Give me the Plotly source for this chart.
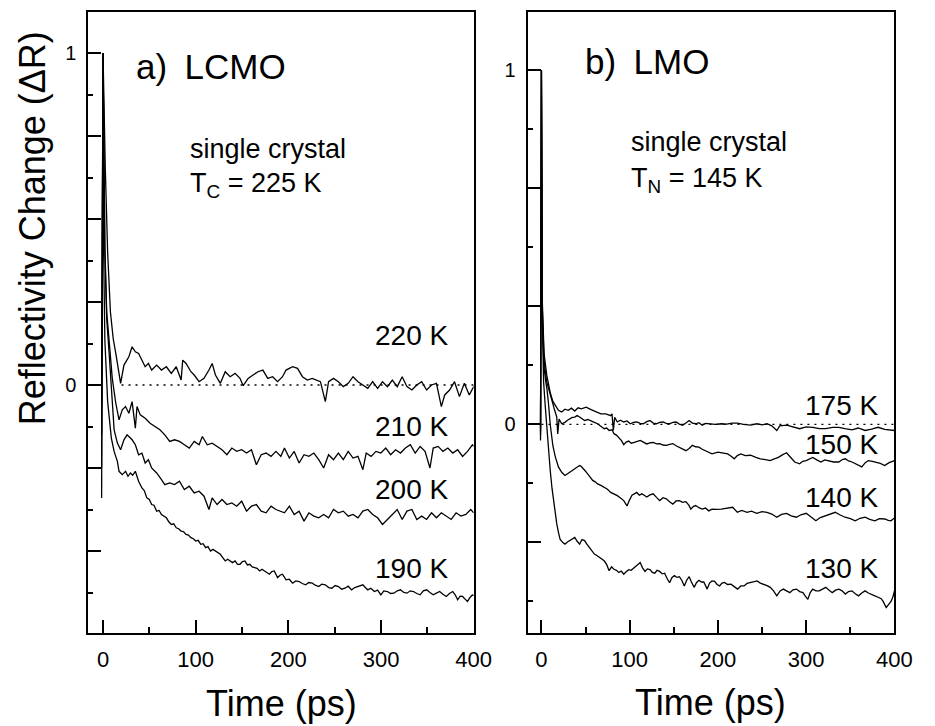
import plotly.graph_objects as go

W, H = 935, 726
FONT = "Liberation Sans, Arial, sans-serif"

# ---- measured transients: (time in ps, normalised reflectivity change) ----
lcmo_220 = [(-1.5,-0.05),(0,1.0),(2.5,0.65),(5,0.4),(8,0.22),(11,0.14),(13.8,0.095),(17.3,0.035),(19,0.005),(22.6,0.06),
    (27.9,0.085),(31.4,0.115),(34.9,0.1),(38.4,0.095),(42,0.075),(45.5,0.055),(49,0.065),(52.5,0.045),(57.9,0.06),(63.1,0.045),
    (68.4,0.055),(73.7,0.035),(79,0.055),(84.3,0.015),(86,0.075),(89.6,0.065),(94.9,0.04),(98.4,0.03),(103.7,0.01),(109,0.02),
    (114.3,0.045),(117.8,0.065),(121.3,0.03),(126.6,0.005),(131.9,0.04),(137.2,0.025),(142.5,0.035),(147.8,0.02),(151.3,-0.002),
    (156.6,0.02),(161.9,0.03),(167.2,0.04),(172.5,0.045),(177.8,0.02),(183,0.025),(188.4,0.01),(193.7,0.025),(197.5,0.045),
    (204.6,0.055),(209.9,0.05),(215.2,0.025),(220.5,0.015),(225.8,0.02),(231,0.015),(234.6,0.01),(239.9,-0.05),(243.4,0.01),
    (248.7,0.02),(254,0.01),(259.3,-0.005),(264.6,0.005),(269.8,0.025),(275.1,0.01),(280.4,0.0),(285.7,-0.01),(291,0.01),
    (296.3,-0.01),(301.6,0.01),(306.9,-0.005),(312.2,0.015),(317.5,-0.005),(322.8,0.025),(328,-0.005),(333.3,-0.015),(338.6,0.0),
    (343.9,0.01),(349.2,-0.015),(354.5,0.0),(359.8,0.005),(365.1,-0.065),(368.7,-0.03),(374,-0.015),(379.3,0.01),(384.6,-0.035),
    (389.9,0.005),(395.2,-0.03),(400,-0.005)]

lcmo_210 = [(-1.5,-0.15),(0,1.0),(2,0.42),(4,0.22),(7,0.12),(10,0.02),(13.8,-0.055),(17.3,-0.105),(20.8,-0.075),(24.3,-0.065),
    (27.9,-0.085),(31.4,-0.05),(34.9,-0.13),(36.7,-0.065),(40.2,-0.09),(45.5,-0.1),(50.8,-0.115),(56.1,-0.125),(61.4,-0.135),
    (66.7,-0.15),(72,-0.17),(77.2,-0.165),(82.5,-0.17),(87.8,-0.18),(93.1,-0.19),(98.4,-0.17),(103.7,-0.18),(107.2,-0.155),
    (112.5,-0.18),(117.8,-0.175),(123.1,-0.185),(128.4,-0.195),(133.7,-0.21),(139,-0.19),(144.3,-0.2),(149.6,-0.195),(154.9,-0.205),
    (160.2,-0.195),(165.5,-0.24),(170.7,-0.21),(176,-0.205),(181.3,-0.215),(186.6,-0.2),(191.9,-0.215),(195.8,-0.19),(201.1,-0.22),
    (206.3,-0.2),(211.6,-0.235),(216.9,-0.21),(222.2,-0.215),(227.5,-0.205),(232.8,-0.225),(238.1,-0.25),(243.4,-0.21),
    (248.7,-0.225),(254,-0.205),(259.3,-0.225),(264.6,-0.2),(269.8,-0.22),(275.1,-0.215),(280.4,-0.255),(284,-0.205),(289.3,-0.215),
    (294.5,-0.2),(299.8,-0.205),(305.1,-0.19),(310.4,-0.21),(315.7,-0.195),(321,-0.205),(326.3,-0.19),(331.6,-0.18),(336.9,-0.205),
    (342.2,-0.185),(347.5,-0.2),(352.8,-0.25),(356.3,-0.19),(361.6,-0.185),(366.8,-0.2),(372.1,-0.19),(377.4,-0.205),(382.7,-0.195),
    (388,-0.215),(393.3,-0.2),(398.6,-0.18),(400,-0.185)]

lcmo_200 = [(-1.5,-0.25),(0,1.0),(2,0.4),(4,0.2),(7,0.08),(10,-0.06),(12,-0.135),(15.5,-0.175),(19,-0.195),(22.6,-0.165),
    (26,-0.15),(31.4,-0.165),(34.9,-0.18),(38.4,-0.21),(42,-0.205),(45.5,-0.235),(49,-0.225),(52.5,-0.25),(57.9,-0.265),(63.1,-0.285),
    (66.7,-0.3),(72,-0.295),(77.2,-0.3),(82.5,-0.29),(87.8,-0.315),(93.1,-0.305),(98.4,-0.325),(103.7,-0.32),(109,-0.335),
    (114.3,-0.375),(117.8,-0.34),(123.1,-0.36),(128.4,-0.345),(133.7,-0.36),(139,-0.355),(144.3,-0.365),(149.6,-0.35),(154.9,-0.38),
    (160.2,-0.365),(165.5,-0.36),(170.7,-0.38),(176,-0.385),(181.3,-0.365),(186.6,-0.375),(191.9,-0.38),(195.8,-0.385),(201.1,-0.365),
    (206.3,-0.39),(211.6,-0.38),(216.9,-0.41),(222.2,-0.385),(227.5,-0.395),(232.8,-0.4),(238.1,-0.39),(243.4,-0.4),(248.7,-0.375),
    (254,-0.385),(259.3,-0.38),(264.6,-0.395),(269.8,-0.39),(275.1,-0.4),(280.4,-0.38),(285.7,-0.375),(291,-0.39),(296.3,-0.4),
    (301.6,-0.42),(306.9,-0.405),(312.2,-0.39),(317.5,-0.375),(322.8,-0.405),(328,-0.38),(333.3,-0.375),(338.6,-0.405),(343.9,-0.395),
    (349.2,-0.405),(354.5,-0.385),(359.8,-0.4),(365.1,-0.385),(370.4,-0.395),(375.7,-0.405),(381,-0.385),(386.2,-0.395),(391.5,-0.39),
    (396.8,-0.375),(400,-0.385)]

lcmo_190 = [(-1.5,-0.34),(0,1.0),(0.7,0.4),(2,0.135),(5,-0.05),(9,-0.16),(12,-0.2),(15.5,-0.23),(17.3,-0.26),(20.8,-0.27),
    (24.3,-0.26),(27,-0.275),(29.6,-0.265),(32,-0.272),(34.9,-0.26),(38.4,-0.29),(42,-0.31),(44.5,-0.318),(47.3,-0.34),(50,-0.345),
    (52.5,-0.36),(55,-0.362),(57.9,-0.38),(60.5,-0.378),(63.1,-0.39),(65.8,-0.395),(68.4,-0.4),(71,-0.412),(73.7,-0.42),(76.3,-0.418),
    (79,-0.43),(81.6,-0.433),(84.3,-0.44),(87,-0.442),(89.6,-0.45),(92.2,-0.452),(94.9,-0.46),(97.5,-0.463),(100.1,-0.47),
    (102.8,-0.468),(105.4,-0.48),(108,-0.478),(110.7,-0.49),(113.3,-0.487),(116,-0.5),(118.6,-0.495),(121.3,-0.5),(124,-0.506),
    (126.6,-0.51),(129.2,-0.52),(131.9,-0.53),(134.5,-0.525),(137.2,-0.53),(139.8,-0.535),(142.5,-0.53),(145.2,-0.54),(147.8,-0.54),
    (150.5,-0.532),(153.1,-0.53),(155.8,-0.542),(158.4,-0.54),(161,-0.548),(163.7,-0.55),(166.3,-0.552),(169,-0.56),(171.6,-0.555),
    (174.3,-0.56),(177,-0.566),(179.6,-0.57),(182.2,-0.562),(184.8,-0.56),(188.4,-0.58),(191,-0.573),(193.7,-0.57),(197.5,-0.587),
    (201,-0.585),(204.6,-0.597),(208,-0.59),(211.6,-0.592),(215,-0.598),(218.7,-0.602),(222,-0.595),(225.8,-0.597),(229,-0.603),
    (232.8,-0.607),(236,-0.6),(239.9,-0.602),(243.5,-0.61),(247,-0.612),(250.5,-0.604),(254,-0.607),(257.5,-0.615),(261.1,-0.612),
    (264.6,-0.606),(268.2,-0.617),(271.7,-0.61),(275.1,-0.607),(280.4,-0.602),(283,-0.61),(285.7,-0.617),(289,-0.612),(292.8,-0.622),
    (296.3,-0.618),(299.8,-0.632),(303,-0.62),(306.9,-0.622),(310.4,-0.628),(313.9,-0.627),(317.5,-0.62),(321,-0.617),(324.5,-0.625),
    (328,-0.627),(331.5,-0.62),(335.1,-0.622),(338.6,-0.628),(342.2,-0.632),(345.7,-0.62),(349.2,-0.617),(352.8,-0.625),
    (356.3,-0.632),(359.8,-0.627),(363.3,-0.622),(366.8,-0.63),(370.4,-0.637),(373.9,-0.628),(377.4,-0.622),(380,-0.632),
    (382.7,-0.647),(385.4,-0.636),(388,-0.637),(390.7,-0.645),(393.3,-0.652),(396,-0.64),(398.6,-0.632),(400,-0.635)]

lmo_175 = [(-1,-0.01),(0,1.0),(1,0.35),(3,0.2),(6,0.14),(10,0.09),(13,0.065),(15.6,0.054),(19.3,0.04),(23,0.035),(26.7,0.043),
    (30.4,0.04),(34,0.046),(37.8,0.038),(41.5,0.047),(45.2,0.044),(50.7,0.049),(56.3,0.042),(61.9,0.035),(67.4,0.03),(73,0.03),
    (78.5,0.025),(80,0.03),(81.5,-0.017),(83,0.02),(86,0.007),(89.6,0.012),(93.3,0.007),(97,0.01),(100.7,0.002),(104.4,0.006),
    (108,0.007),(111.8,0.003),(115.6,0.002),(119.3,0.008),(123,0.011),(126.7,0.004),(130.4,0.002),(134,0.006),(137.8,0.007),
    (141.5,0.003),(145.2,0.002),(148.9,0.006),(152.6,0.007),(156.3,0.001),(160,-0.002),(163.7,0.004),(167.4,0.011),(171,0.004),
    (174.8,0.002),(178.5,0.005),(182.2,-0.002),(185.9,0.003),(191.5,0.002),(197,0.0),(203.7,0.002),(210,0.001),(216,0.004),
    (222,0.004),(229,0.0),(237,-0.002),(244,0.002),(250,-0.001),(255.6,0.002),(261,-0.004),(266.7,-0.017),(270,-0.004),
    (277.8,-0.002),(285,-0.006),(292.6,-0.012),(300,-0.007),(307.4,-0.008),(315,-0.012),(322.2,-0.012),(330,-0.008),(337,-0.008),
    (344,-0.012),(351.9,-0.015),(359,-0.01),(366.7,-0.017),(374,-0.013),(381.5,-0.008),(389,-0.014),(396.3,-0.017),(400,-0.017)]

lmo_150 = [(-1,-0.02),(0,1.0),(1,0.33),(3,0.18),(6,0.12),(9,0.09),(11.9,0.068),(15,0.04),(17.4,0.021),(18.5,-0.027),(20,0.015),
    (23,0.002),(26.7,0.006),(29.5,0.012),(32.2,0.016),(35,0.02),(37.8,0.021),(40.5,0.025),(43.3,0.021),(46,0.016),(48.9,0.011),
    (52.6,0.014),(56.3,0.011),(60,0.006),(63.7,0.002),(67.4,-0.004),(71.1,-0.012),(74,-0.01),(76.7,-0.017),(80,-0.015),(82.2,-0.026),
    (85,-0.03),(87.8,-0.038),(90.5,-0.045),(93.3,-0.057),(96,-0.05),(98.9,-0.047),(101.7,-0.053),(104.4,-0.051),(108,-0.048),
    (111.9,-0.045),(115.6,-0.05),(119.3,-0.055),(123,-0.052),(126.7,-0.051),(130.4,-0.055),(134,-0.054),(137.8,-0.058),(141.5,-0.059),
    (145.2,-0.056),(148.9,-0.054),(152.6,-0.06),(156.3,-0.064),(160,-0.07),(163.7,-0.074),(167.4,-0.068),(171,-0.059),(174.8,-0.063),
    (178.5,-0.064),(182.2,-0.07),(185.9,-0.074),(189.6,-0.078),(193.3,-0.083),(200,-0.078),(205,-0.08),(211,-0.083),(215,-0.09),
    (218.5,-0.097),(222,-0.088),(225.9,-0.083),(231,-0.088),(237,-0.087),(243,-0.093),(248,-0.097),(254,-0.099),(259,-0.102),
    (264,-0.097),(268.5,-0.093),(273,-0.086),(277.8,-0.08),(282,-0.092),(287,-0.106),(292.6,-0.111),(296,-0.104),(300,-0.102),
    (304,-0.097),(307.4,-0.093),(312,-0.1),(316.7,-0.106),(321,-0.1),(325.9,-0.102),(331,-0.106),(337,-0.106),(341,-0.099),
    (344.4,-0.097),(348,-0.103),(351.9,-0.106),(357,-0.112),(363,-0.12),(367,-0.108),(370.4,-0.102),(375,-0.104),(379.6,-0.106),
    (384,-0.11),(388.9,-0.116),(394,-0.108),(400,-0.102)]

lmo_140 = [(-1,-0.03),(0,1.0),(1,0.3),(3,0.16),(5,0.12),(6.3,0.1),(8,0.06),(10,0.0),(13,-0.06),(15.6,-0.09),(19.3,-0.12),
    (23,-0.135),(26.7,-0.144),(29.5,-0.14),(32.2,-0.135),(35,-0.13),(37.8,-0.125),(40.5,-0.12),(43.3,-0.116),(45,-0.118),(47,-0.125),
    (50,-0.132),(52.6,-0.14),(55.4,-0.15),(58.1,-0.158),(60.9,-0.162),(63.7,-0.168),(67.4,-0.172),(71.1,-0.177),(74.8,-0.183),
    (78.5,-0.192),(82.2,-0.196),(86,-0.201),(89.6,-0.208),(93.3,-0.215),(95,-0.222),(97,-0.23),(99.5,-0.215),(102.6,-0.2),
    (105.3,-0.196),(108,-0.192),(111,-0.2),(113.7,-0.196),(116.5,-0.2),(119.3,-0.205),(123,-0.199),(126.7,-0.196),(130.4,-0.206),
    (134,-0.215),(137.8,-0.207),(141.5,-0.21),(145.2,-0.218),(148.9,-0.225),(152.6,-0.216),(156.3,-0.215),(160,-0.22),(163.7,-0.218),
    (167,-0.228),(169.3,-0.239),(172,-0.232),(174.8,-0.229),(178.5,-0.235),(182.2,-0.239),(185.9,-0.236),(189.6,-0.244),(193.3,-0.239),
    (198,-0.24),(203.7,-0.239),(210,-0.236),(216.7,-0.234),(222,-0.248),(227,-0.243),(233,-0.248),(238,-0.245),(244,-0.251),
    (250,-0.246),(255.6,-0.248),(261,-0.253),(266.7,-0.262),(272,-0.254),(277.8,-0.251),(283,-0.258),(288.9,-0.262),(294,-0.255),
    (300,-0.251),(305,-0.26),(311,-0.272),(316,-0.263),(322,-0.257),(328,-0.252),(333,-0.248),(338,-0.255),(344,-0.262),(350,-0.266),
    (355.6,-0.272),(361,-0.265),(366.7,-0.262),(372,-0.268),(377.8,-0.272),(383,-0.266),(389,-0.267),(393,-0.271),(396,-0.272),
    (400,-0.264)]

lmo_130 = [(-1,-0.045),(0,1.0),(1,0.3),(2.5,0.12),(4.4,0.05),(6.3,-0.017),(8,-0.07),(10,-0.13),(12,-0.18),(13.7,-0.215),
    (15.5,-0.25),(17.4,-0.281),(19.3,-0.305),(21.1,-0.324),(24,-0.333),(26.7,-0.338),(29.5,-0.332),(32.2,-0.328),(35,-0.322),
    (37.8,-0.319),(40.5,-0.33),(43.3,-0.338),(46,-0.325),(48.9,-0.328),(51.5,-0.338),(54.4,-0.347),(57,-0.356),(60,-0.366),
    (62.8,-0.37),(65.6,-0.375),(68.4,-0.378),(71.1,-0.385),(74,-0.396),(76.7,-0.413),(79.5,-0.402),(82.2,-0.409),(85,-0.412),
    (87.8,-0.418),(90.5,-0.414),(93.3,-0.423),(96,-0.416),(98.9,-0.41),(101.7,-0.412),(104.4,-0.406),(108,-0.398),(111.9,-0.39),
    (114.6,-0.405),(117.4,-0.415),(120,-0.408),(123,-0.41),(125.7,-0.418),(128.5,-0.42),(131,-0.412),(134,-0.415),(137,-0.422),
    (139.6,-0.42),(142.4,-0.435),(145.2,-0.447),(148,-0.432),(150.7,-0.427),(153.5,-0.432),(156.3,-0.43),(159,-0.44),(161.9,-0.456),
    (164.6,-0.44),(167.4,-0.43),(170,-0.445),(173,-0.46),(175.7,-0.447),(178.5,-0.44),(181.3,-0.445),(184,-0.445),(187.8,-0.465),
    (190.5,-0.448),(193.3,-0.442),(196.3,-0.443),(199,-0.452),(201.9,-0.456),(204.6,-0.448),(207.4,-0.446),(211,-0.452),
    (214.8,-0.451),(218.5,-0.458),(222.2,-0.465),(226,-0.456),(229.6,-0.456),(233,-0.449),(237,-0.446),(240.7,-0.443),(244.4,-0.442),
    (248,-0.448),(251.9,-0.451),(255.6,-0.455),(259.3,-0.46),(263,-0.47),(266.7,-0.484),(270.4,-0.47),(274,-0.465),(277.8,-0.47),
    (281.5,-0.475),(285,-0.467),(288.9,-0.465),(292.6,-0.472),(296.3,-0.475),(299,-0.485),(301.9,-0.494),(304.6,-0.475),
    (307.4,-0.465),(311,-0.47),(314.8,-0.47),(318.5,-0.465),(322.2,-0.46),(326,-0.468),(329.6,-0.475),(333.3,-0.468),(337,-0.465),
    (340.7,-0.47),(344.4,-0.479),(348,-0.472),(351.9,-0.47),(355.6,-0.478),(359.3,-0.484),(363,-0.476),(366.7,-0.47),(370.4,-0.476),
    (374,-0.479),(377.8,-0.484),(381.5,-0.488),(385,-0.492),(387,-0.499),(390.7,-0.517),(393.5,-0.508),(396.3,-0.499),
    (398.5,-0.485),(400,-0.47)]

# zero reference lines (time span of each dotted baseline)
zero_lcmo = [20, 400]
zero_lmo = [0, 400]

lcmo_curves = [("220 K", lcmo_220), ("210 K", lcmo_210), ("200 K", lcmo_200), ("190 K", lcmo_190)]
lmo_curves = [("175 K", lmo_175), ("150 K", lmo_150), ("140 K", lmo_140), ("130 K", lmo_130)]

# tick values: labelled ticks, unlabelled long ticks, short ticks
x_major = [0, 100, 200, 300, 400]
x_minor = [50, 150, 250, 350]
y_labelled = [0, 1]
lcmo_long = [-0.5, -0.25, 0.25, 0.5, 0.75]
lcmo_short = [-0.625, -0.375, -0.125, 0.125, 0.375, 0.625, 0.875]
lmo_long = [-1/3, 1/3, 2/3]
lmo_short = [-0.5, -1/6, 1/6, 0.5, 5/6]

LCMO_RANGE = [-0.747, 1.1235]
LMO_RANGE = [-0.589, 1.165]


def px(x):
    return x / W


def py(y):
    return 1 - y / H


fig = go.Figure()

for name, pts in lcmo_curves:
    fig.add_trace(go.Scatter(x=[p[0] for p in pts], y=[p[1] for p in pts], mode="lines", name=name,
                             line=dict(color="black", width=1.3), xaxis="x", yaxis="y"))
fig.add_trace(go.Scatter(x=zero_lcmo, y=[0, 0], mode="lines",
                         line=dict(color="black", width=1.3, dash="2px,5px"), xaxis="x", yaxis="y"))

for name, pts in lmo_curves:
    fig.add_trace(go.Scatter(x=[p[0] for p in pts], y=[p[1] for p in pts], mode="lines", name=name,
                             line=dict(color="black", width=1.3), xaxis="x2", yaxis="y2"))
fig.add_trace(go.Scatter(x=zero_lmo, y=[0, 0], mode="lines",
                         line=dict(color="black", width=1.3, dash="2px,5px"), xaxis="x2", yaxis="y2"))

# empty traces so the tick-only overlay axes get drawn
fig.add_trace(go.Scatter(x=[], y=[], xaxis="x", yaxis="y3", hoverinfo="skip"))
fig.add_trace(go.Scatter(x=[], y=[], xaxis="x2", yaxis="y4", hoverinfo="skip"))

TICK = dict(ticks="inside", tickwidth=1.6, tickcolor="black")


def xaxis_style(domain, rng, anchor):
    return dict(domain=domain, range=rng, anchor=anchor, tickvals=x_major,
                ticktext=[str(v) for v in x_major], ticklen=13, **TICK,
                minor=dict(tickvals=x_minor, ticklen=6, showgrid=False, **TICK),
                showline=True, linewidth=2, linecolor="black", mirror=True, showgrid=False, zeroline=False,
                tickfont=dict(family=FONT, size=22, color="black"), ticklabelstandoff=6)


def yaxis_style(domain, rng, anchor, short):
    return dict(domain=domain, range=rng, anchor=anchor, tickvals=y_labelled,
                ticktext=[str(v) for v in y_labelled], ticklen=13, **TICK,
                minor=dict(tickvals=short, ticklen=5, showgrid=False, **TICK),
                showline=True, linewidth=2, linecolor="black", mirror=True, showgrid=False, zeroline=False,
                tickfont=dict(family=FONT, size=20, color="black"), ticklabelstandoff=6)


def overlay_ticks(over, anchor, rng, vals):
    return dict(overlaying=over, anchor=anchor, range=rng, tickvals=vals, ticklen=13, **TICK,
                showticklabels=False, showline=False, showgrid=False, zeroline=False)


ydom = [1 - 633 / H, 1 - 12 / H]

fig.update_layout(
    width=W, height=H, margin=dict(l=0, r=0, t=0, b=0),
    paper_bgcolor="white", plot_bgcolor="white", showlegend=False,
    font=dict(family=FONT, color="black"),
    xaxis=xaxis_style([90 / W, 483 / W], [-15.9, 400], "y"),
    yaxis=yaxis_style(ydom, LCMO_RANGE, "x", lcmo_short),
    yaxis3=overlay_ticks("y", "x", LCMO_RANGE, lcmo_long),
    xaxis2=xaxis_style([538 / W, 912 / W], [-15.6, 400], "y2"),
    yaxis2=yaxis_style(ydom, LMO_RANGE, "x2", lmo_short),
    yaxis4=overlay_ticks("y2", "x2", LMO_RANGE, lmo_long),
)

ann = []


def text(s, x, y, size, xanchor="left", angle=0):
    ann.append(dict(text=s, x=px(x), y=py(y), xref="paper", yref="paper", showarrow=False,
                    xanchor=xanchor, yanchor="middle", textangle=angle,
                    font=dict(family=FONT, size=size, color="black")))


# panel titles and sample info
text("a)\u2002LCMO", 137, 67, 35)
text("single crystal", 192, 149, 27)
text("T<sub>C</sub> = 225 K", 192, 185, 27)
text("b)\u2002LMO", 594, 62, 35)
text("single crystal", 641, 142, 27)
text("T<sub>N</sub> = 145 K", 641, 180, 27)

# temperature labels
for s, y in [("220 K", 335), ("210 K", 426), ("200 K", 489), ("190 K", 568)]:
    text(s, 459, y, 28, xanchor="right")
for s, y in [("175 K", 405), ("150 K", 444), ("140 K", 497), ("130 K", 568)]:
    text(s, 897, y, 28, xanchor="right")

# axis titles
text("Time (ps)", 287, 703, 36, xanchor="center")
text("Time (ps)", 724, 702, 36, xanchor="center")
text("Reflectivity Change (\u0394R)", 33, 228, 36, xanchor="center", angle=-90)

fig.update_layout(annotations=ann)
fig.write_html("out.html")
